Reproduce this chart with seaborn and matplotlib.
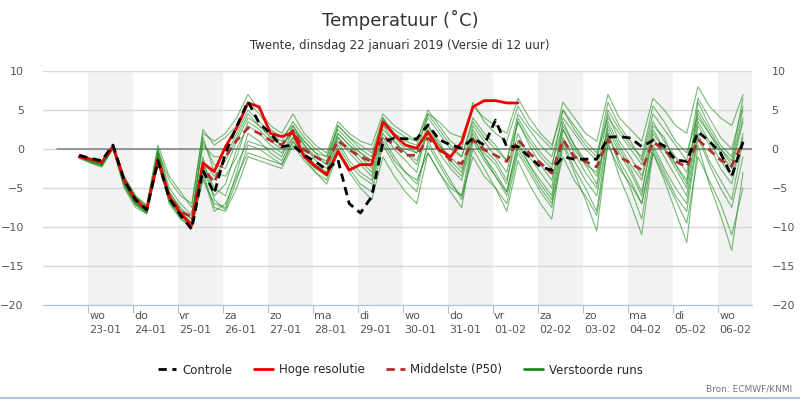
import numpy as np
import pandas as pd
import matplotlib
matplotlib.use('Agg')
import matplotlib.pyplot as plt
import seaborn as sns
from matplotlib.lines import Line2D

# time axis: days since 22-01 00h, 6-hourly steps
t_start = 0.8
t_step = 0.25
n_steps = 60

day_labels = ['wo\n23-01', 'do\n24-01', 'vr\n25-01', 'za\n26-01', 'zo\n27-01', 'ma\n28-01',
              'di\n29-01', 'wo\n30-01', 'do\n31-01', 'vr\n01-02', 'za\n02-02', 'zo\n03-02',
              'ma\n04-02', 'di\n05-02', 'wo\n06-02']

hoge_resolutie = [-1.0, -1.3, -1.7, 0.3, -4.0, -6.5, -7.8, -1.4, -6.1, -8.2, -9.8, -1.8, -2.9, 0.3, 2.7,
                  5.9, 5.4, 2.0, 1.6, 2.1, -1.0, -2.2, -3.3, -0.3, -2.7, -2.0, -2.0, 3.5, 1.8, 0.5,
                  0.1, 2.2, -0.1, -1.0, 0.9, 5.4, 6.2, 6.2, 5.9, 5.9]

controle = [-0.8, -1.2, -1.5, 0.5, -4.0, -6.5, -7.8, -1.5, -6.3, -8.5, -10.3, -2.7, -5.7, -0.5, 2.9,
            6.1, 3.3, 2.0, 0.3, 0.5, -0.8, -1.6, -2.7, -1.4, -7.0, -8.2, -6.1, 0.9, 1.4, 1.3,
            1.3, 3.1, 1.2, 0.5, 0.1, 1.4, 0.5, 3.7, 0.3, 0.3, -1.0, -2.3, -2.7, -1.0, -1.3,
            -1.3, -1.3, 1.5, 1.6, 1.4, 0.3, 1.1, 0.4, -1.4, -1.6, 2.2, 1.0, -0.5, -3.5, 0.9]

middelste = [-0.9, -1.3, -1.6, 0.4, -4.0, -6.4, -7.6, -1.5, -6.0, -8.0, -8.7, -2.3, -4.3, -1.0, 1.1,
             2.7, 2.0, 1.1, 0.5, 2.4, -0.1, -1.0, -1.8, 1.1, -0.1, -1.0, -1.6, 1.7, 0.5, -0.8,
             -0.8, 1.4, -0.1, -1.4, -1.9, 1.2, -0.1, -0.8, -1.6, 1.2, -0.5, -1.8, -3.1, 1.2, -1.0,
             -1.6, -2.3, 1.2, -1.0, -1.8, -2.7, 0.9, -0.1, -1.6, -2.3, 1.2, -0.1, -1.4, -2.2, 0.9]

members = [
    [-1.0, -1.5, -2.0, 0.3, -4.5, -7.0, -8.0, -0.5, -5.5, -7.5, -9.0, 1.5, -3.0, -3.5, -1.0, 3.5, 2.5, 1.0, 0.0, 3.0,
     0.5, -1.5, -2.5, 2.0, 0.5, -1.0, -2.5, 4.0, 1.5, 0.0, -0.5, 3.0, 1.0, -2.0, -3.5, 2.5, 0.0, -1.5, -4.0, 2.0,
     -1.0, -3.0, -5.0, 3.5, 0.5, -2.0, -3.0, 4.5, 1.0, -1.0, -3.5, 3.0, 1.5, -2.0, -4.0, 5.0, 2.5, 0.0, -2.0, 4.0],
    [-1.2, -1.8, -2.3, 0.0, -5.0, -7.5, -8.3, -1.0, -7.0, -9.0, -10.0, -4.0, -7.0, -7.5, -3.0, 2.0, 1.0, -0.5, -1.5, 1.5,
     -1.0, -2.5, -3.5, 0.5, -2.0, -3.5, -4.5, 1.0, -1.5, -3.0, -4.0, -0.5, -3.0, -5.0, -6.0, -1.0, -3.5, -5.0, -7.0, -0.5,
     -3.0, -5.5, -7.5, 1.0, -2.5, -5.0, -8.0, 2.0, -2.0, -5.0, -9.0, 0.0, -3.0, -6.0, -8.0, 1.5, -2.0, -5.0, -7.5, -1.0],
    [-0.8, -1.2, -1.6, 0.6, -3.5, -6.0, -7.5, -0.2, -4.0, -6.0, -7.0, 2.0, 1.0, 2.0, 4.0, 7.0, 5.0, 3.0, 2.0, 4.5,
     2.0, 0.5, -0.5, 3.5, 2.0, 1.0, 0.5, 4.5, 3.0, 2.0, 1.0, 5.0, 3.0, 1.0, 0.0, 6.0, 3.5, 2.0, 1.0, 5.5,
     3.0, 1.5, 0.0, 6.0, 4.0, 2.0, 1.0, 7.0, 4.0, 2.5, 1.0, 6.5, 5.0, 3.0, 2.0, 8.0, 5.5, 4.0, 3.0, 7.0],
    [-1.1, -1.6, -2.1, 0.2, -4.2, -6.8, -8.0, -1.5, -6.5, -8.5, -9.5, -2.0, -5.0, -6.0, -2.0, 1.0, 0.5, 0.0, -1.0, 2.5,
     1.0, -0.5, -2.0, 1.5, 0.0, -1.5, -3.0, 2.5, 1.0, -0.5, -2.0, 2.0, -0.5, -2.5, -4.0, 1.5, -1.0, -3.0, -5.5, 0.5,
     -2.0, -4.0, -6.0, 2.5, -0.5, -3.0, -5.0, 3.0, 0.0, -2.5, -5.5, 1.5, -1.0, -3.5, -6.0, 3.0, 0.5, -2.5, -4.5, 2.0],
    [-0.9, -1.4, -1.8, 0.5, -3.8, -6.2, -7.3, 0.0, -5.0, -7.0, -8.5, 0.5, -1.0, -1.0, 2.0, 5.0, 3.5, 2.0, 1.0, 3.5,
     1.5, 0.0, -1.0, 2.5, 1.0, -0.5, -1.5, 3.0, 2.0, 1.0, 0.5, 4.0, 2.0, 0.0, -1.0, 4.0, 2.0, 0.5, -1.5, 3.5,
     1.0, -1.0, -2.5, 5.0, 2.5, 0.5, -1.0, 6.0, 3.0, 1.0, -1.5, 4.5, 2.5, 0.5, -1.5, 6.5, 4.0, 1.5, 0.0, 5.5],
    [-1.0, -1.7, -2.2, 0.1, -4.8, -7.2, -8.2, -0.8, -6.0, -8.0, -9.5, -1.0, -6.5, -7.8, -4.0, 0.5, 0.0, -1.0, -2.0, 1.0,
     -1.0, -3.0, -4.0, 0.0, -2.5, -4.5, -5.5, 0.5, -2.0, -4.0, -5.5, 1.0, -1.5, -4.0, -6.5, 0.0, -2.5, -5.0, -8.0, -1.5,
     -4.5, -7.0, -9.0, 0.5, -3.0, -6.5, -10.5, 1.0, -3.5, -7.0, -11.0, -0.5, -4.0, -8.0, -12.0, 0.5, -4.5, -8.5, -13.0, -3.0],
    [-0.9, -1.5, -1.9, 0.4, -4.0, -6.5, -7.7, -1.2, -5.5, -7.8, -9.0, 1.0, -2.0, -2.5, 1.0, 4.0, 3.0, 1.5, 0.5, 2.0,
     0.0, -1.0, -2.0, 3.0, 1.5, 0.0, -1.0, 3.5, 2.5, 1.5, 1.0, 4.5, 3.5, 2.0, 1.5, 5.5, 4.0, 3.0, 2.0, 6.5,
     4.0, 2.0, 0.5, 5.0, 3.0, 1.0, -0.5, 4.0, 2.0, 0.0, -2.0, 3.5, 1.0, -1.0, -3.0, 4.0, 2.0, -0.5, -2.5, 3.5],
    [-1.1, -1.6, -2.0, 0.2, -4.3, -6.9, -7.9, -0.3, -5.8, -8.2, -9.6, -3.0, -7.5, -8.0, -5.0, -1.0, -1.5, -2.0, -2.5, 0.5,
     -1.5, -3.0, -4.5, -0.5, -3.0, -5.0, -6.5, -1.0, -3.5, -5.5, -7.0, -0.5, -3.0, -5.5, -7.5, 1.0, -1.5, -3.5, -6.0, 0.0,
     -2.5, -5.0, -7.0, -1.0, -4.0, -6.0, -8.5, 0.5, -2.5, -4.5, -7.0, -0.5, -3.5, -6.5, -9.5, -1.0, -4.0, -7.0, -11.0, -5.0],
    [-1.0, -1.4, -1.9, 0.3, -4.1, -6.6, -7.8, -0.6, -6.2, -8.4, -9.8, -1.5, -3.5, -1.5, 1.5, 4.5, 3.0, 1.5, 0.5, 2.5,
     0.5, -1.0, -1.5, 2.0, 0.5, -0.5, -1.5, 3.0, 1.0, -0.5, -1.5, 2.5, 0.5, -1.0, -2.5, 3.0, 1.0, -1.0, -3.0, 3.5,
     0.5, -2.0, -4.0, 2.5, 0.0, -2.0, -4.5, 3.5, 0.5, -2.0, -4.0, 2.0, 0.0, -2.5, -5.0, 3.5, 1.0, -1.5, -3.5, 1.5],
    [-1.0, -1.5, -2.0, 0.4, -4.4, -7.0, -8.1, -1.8, -6.8, -8.8, -10.0, -2.5, -6.0, -4.5, 0.0, 3.0, 2.0, 0.5, -0.5, 1.5,
     -0.5, -2.0, -3.0, 1.5, -0.5, -2.0, -3.5, 2.0, 0.0, -1.5, -3.0, 3.0, 0.5, -1.5, -3.0, 2.0, -0.5, -2.0, -4.5, 4.0,
     1.5, -0.5, -2.0, 3.0, 0.5, -1.5, -3.5, 2.5, -0.5, -3.0, -6.0, 2.5, 0.0, -2.0, -4.5, 6.0, 3.0, 0.5, -1.0, 6.5],
    [-0.8, -1.3, -1.7, 0.5, -3.6, -6.0, -7.2, 0.5, -3.5, -5.5, -7.5, 2.5, 0.5, 1.5, 3.0, 6.0, 4.5, 2.5, 1.5, 3.0,
     1.0, -0.5, -1.0, 3.0, 1.5, 0.5, -0.5, 4.0, 2.0, 0.5, -0.5, 4.5, 2.5, 0.5, -1.0, 3.5, 1.5, 0.0, -1.5, 4.5,
     2.5, 0.5, -1.0, 4.0, 2.0, 0.0, -1.5, 5.0, 2.5, 0.5, -1.0, 5.5, 3.5, 1.0, -0.5, 4.5, 2.0, 0.0, -1.5, 5.0],
    [-1.1, -1.7, -2.2, 0.1, -4.6, -7.1, -8.3, -1.0, -6.6, -8.6, -9.9, -3.5, -8.0, -7.0, -3.5, -0.5, -1.0, -1.5, -2.0, 1.0,
     -1.0, -2.5, -3.0, 1.0, -1.5, -3.0, -4.0, 1.5, -1.0, -3.0, -4.5, 0.5, -2.0, -4.5, -6.0, 1.5, -1.0, -3.5, -5.5, 1.0,
     -2.0, -4.5, -6.5, 1.5, -1.5, -4.0, -6.0, 2.0, -1.5, -4.0, -7.0, 0.5, -2.5, -5.0, -7.0, 2.0, -1.5, -4.0, -6.5, 1.0],
]

t = t_start + t_step * np.arange(n_steps)

rows = []
for m, vals in enumerate(members):
    rows.append(pd.DataFrame({'t': t[:len(vals)], 'temp': vals, 'member': m}))
ens = pd.concat(rows, ignore_index=True)

sns.set_style('white')
plt.rcParams['font.family'] = ['DejaVu Sans']

fig = plt.figure(figsize=(8, 4), dpi=100)
ax = fig.add_axes([0.054, 0.2375, 0.886, 0.585])

# alternating day shading
for d in range(1, 16, 2):
    ax.axvspan(d, min(d + 1, 15.75), color='#f2f2f2', zorder=0, lw=0)
for y in range(-20, 11, 5):
    ax.axhline(y, color='#d8d8d8', lw=1, zorder=1)
ax.plot([0.3, 15.75], [0, 0], color='#888888', lw=1.2, zorder=2)

sns.lineplot(data=ens, x='t', y='temp', units='member', estimator=None, color='#1e8c1e',
             alpha=0.6, lw=0.8, ax=ax, zorder=3, legend=False)
sns.lineplot(x=t[:len(middelste)], y=middelste, color='#b03030', lw=2, ls=(0, (3, 2)), ax=ax, zorder=4)
sns.lineplot(x=t[:len(hoge_resolutie)], y=hoge_resolutie, color='#ee0000', lw=2, ax=ax, zorder=5)
sns.lineplot(x=t[:len(controle)], y=controle, color='black', lw=2, ls=(0, (3, 2)), ax=ax, zorder=6)

ax.set_xlim(0, 15.75)
ax.set_ylim(-20, 10)
ax.set_xlabel('')
ax.set_ylabel('')
ax.set_xticks(np.arange(1, 16))
ax.set_xticklabels([])
ax.set_xticks(np.arange(1, 16) + 0.02, minor=True)
ax.set_xticklabels(day_labels, minor=True, fontsize=8, color='#555555', ha='left', linespacing=1.5)
ax.tick_params(axis='x', which='major', length=6, color='#b0c4d8', bottom=True)
ax.tick_params(axis='x', which='minor', length=0, pad=4)
ax.set_yticks(range(-20, 11, 5))
ax.tick_params(axis='y', length=0, labelsize=8, labelcolor='#555555', pad=14)
for s in ['top', 'left', 'right']:
    ax.spines[s].set_visible(False)
ax.spines['bottom'].set_color('#b0c4d8')

ax2 = ax.twinx()
ax2.set_ylim(-20, 10)
ax2.set_yticks(range(-20, 11, 5))
ax2.tick_params(axis='y', length=0, labelsize=8, labelcolor='#555555', pad=14)
for s in ax2.spines.values():
    s.set_visible(False)

fig.text(0.5, 0.95, 'Temperatuur (˚C)', ha='center', va='center', fontsize=13, color='#333333')
fig.text(0.5, 0.885, 'Twente, dinsdag 22 januari 2019 (Versie di 12 uur)', ha='center', va='center',
         fontsize=8.5, color='#333333')
fig.text(0.99, 0.015, 'Bron: ECMWF/KNMI', ha='right', va='bottom', fontsize=6.5, color='#777777')
fig.add_artist(Line2D([0, 1], [0.004, 0.004], color='#a8c4e0', lw=1.5, transform=fig.transFigure))

handles = [Line2D([], [], color='black', lw=2, ls=(0, (3, 2))),
           Line2D([], [], color='#ee0000', lw=2),
           Line2D([], [], color='#b03030', lw=2, ls=(0, (3, 2))),
           Line2D([], [], color='#1e8c1e', lw=2)]
fig.legend(handles, ['Controle', 'Hoge resolutie', 'Middelste (P50)', 'Verstoorde runs'],
           loc='center', bbox_to_anchor=(0.5, 0.075), ncol=4, frameon=False, fontsize=8.5,
           handlelength=1.6, handletextpad=0.5, columnspacing=1.8)

fig.savefig('out.png', dpi=100)
